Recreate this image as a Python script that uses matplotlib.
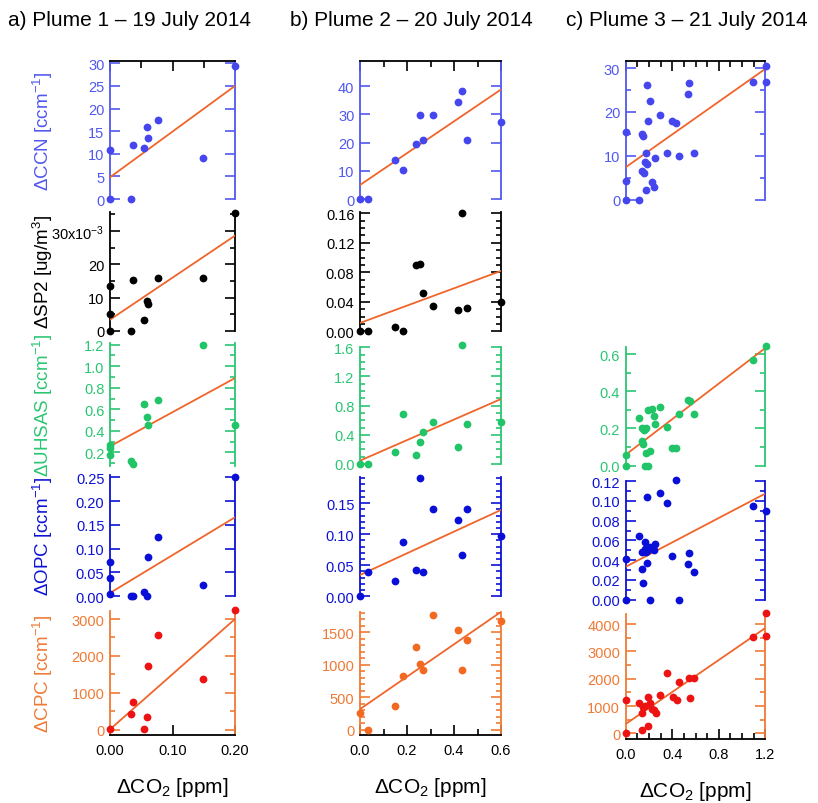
import matplotlib
matplotlib.use('Agg')
import matplotlib.pyplot as plt
from matplotlib.ticker import MultipleLocator, FuncFormatter, NullLocator
import numpy as np

plt.rcParams['font.family'] = ['Liberation Sans', 'DejaVu Sans']
plt.rcParams['mathtext.fontset'] = 'custom'
plt.rcParams['mathtext.rm'] = 'Liberation Sans'
plt.rcParams['mathtext.it'] = 'Liberation Sans:italic'
plt.rcParams['mathtext.bf'] = 'Liberation Sans:bold'
plt.rcParams['mathtext.default'] = 'regular'

# ---------------- data ----------------
titles = ["a) Plume 1 \u2013 19 July 2014", "b) Plume 2 \u2013 20 July 2014", "c) Plume 3 \u2013 21 July 2014"]
xmax = [0.2, 0.6, 1.2]

# Plume 1
a_ccn_x = [0, 0.034, 0, 0.037, 0.054, 0.059, 0.061, 0.076, 0.149, 0.2]
a_ccn_y = [0, 0, 10.9, 11.9, 11.3, 15.9, 13.5, 17.4, 9.05, 29.3]
a_sp2_x = [0, 0, 0, 0.034, 0.037, 0.054, 0.059, 0.061, 0.076, 0.149, 0.2]
a_sp2_y = [0.0136, 0.0051, 0.0, 0.0, 0.0153, 0.0033, 0.0091, 0.0081, 0.0159, 0.0158, 0.0355]
a_uhsas_x = [0, 0, 0, 0.034, 0.037, 0.054, 0.059, 0.061, 0.076, 0.149, 0.2]
a_uhsas_y = [0.27, 0.24, 0.178, 0.122, 0.091, 0.646, 0.531, 0.457, 0.689, 1.2, 0.457]
a_opc_x = [0, 0, 0, 0.034, 0.037, 0.054, 0.059, 0.061, 0.076, 0.149, 0.2]
a_opc_y = [0.072, 0.0385, 0.005, 0.0, 0.0, 0.0084, 0.0, 0.0826, 0.124, 0.0244, 0.25]
a_cpc_x = [0, 0.034, 0.037, 0.054, 0.059, 0.061, 0.076, 0.149, 0.2]
a_cpc_y = [15, 425, 742, 10, 336, 1735, 2566, 1383, 3252]

# Plume 2
b_ccn_x = [0, 0.033, 0.149, 0.183, 0.237, 0.254, 0.268, 0.309, 0.416, 0.434, 0.455, 0.6]
b_ccn_y = [0, 0, 13.8, 10.4, 19.5, 29.7, 21.0, 29.7, 34.4, 38.1, 21.0, 27.4]
b_sp2_x = [0, 0.033, 0.149, 0.183, 0.237, 0.254, 0.268, 0.309, 0.416, 0.434, 0.455, 0.6]
b_sp2_y = [0, 0, 0.0054, 0.0004, 0.090, 0.0913, 0.052, 0.034, 0.0285, 0.160, 0.0316, 0.0393]
b_uhsas_x = [0, 0.033, 0.149, 0.183, 0.237, 0.254, 0.268, 0.309, 0.416, 0.434, 0.455, 0.6]
b_uhsas_y = [0, 0, 0.16, 0.69, 0.128, 0.297, 0.443, 0.58, 0.228, 1.634, 0.552, 0.575]
b_opc_x = [0, 0.033, 0.149, 0.183, 0.237, 0.254, 0.268, 0.309, 0.416, 0.434, 0.455, 0.6]
b_opc_y = [0, 0.0387, 0.0242, 0.088, 0.042, 0.190, 0.0397, 0.141, 0.1235, 0.0666, 0.140, 0.0977]
b_cpc_x = [0, 0.033, 0.149, 0.183, 0.237, 0.254, 0.268, 0.309, 0.416, 0.434, 0.455, 0.6]
b_cpc_y = [257, 0, 365, 831, 1268, 1006, 923, 1770, 1534, 914, 1375, 1672]

# Plume 3
c_ccn_x = [0, 0.115, 0, 0, 0.143, 0.146, 0.186, 0.212, 0.189, 0.295, 0.177, 0.165, 0.183,
           0.143, 0.155, 0.177, 0.227, 0.242, 0.253, 0.356, 0.402, 0.436, 0.457, 0.548, 0.537,
           0.586, 1.097, 1.203, 1.203]
c_ccn_y = [0, 0, 4.3, 15.5, 15.0, 14.6, 26.2, 22.5, 18.0, 19.4, 10.7, 8.7, 8.15,
           6.5, 6.0, 2.1, 4.0, 2.9, 9.45, 10.6, 18.0, 17.5, 10.0, 26.6, 24.0,
           10.7, 26.9, 30.5, 26.8]
c_uhsas_x = [0, 0, 0.115, 0.143, 0.155, 0.165, 0.177, 0.143, 0.149, 0.189, 0.227, 0.298,
             0.242, 0.256, 0.356, 0.177, 0.212, 0.165, 0.189, 0.402, 0.436, 0.457, 0.537,
             0.552, 0.589, 1.097, 1.203]
c_uhsas_y = [0, 0.059, 0.255, 0.203, 0.192, 0.197, 0.203, 0.131, 0.117, 0.301, 0.305, 0.314,
             0.269, 0.224, 0.21, 0.067, 0.077, 0.0, 0.0, 0.093, 0.093, 0.278, 0.355,
             0.348, 0.276, 0.57, 0.642]
c_opc_x = [0, 0, 0.115, 0.143, 0.146, 0.165, 0.143, 0.186, 0.165, 0.189, 0.212, 0.183,
           0.256, 0.242, 0.177, 0.295, 0.356, 0.212, 0.402, 0.436, 0.457, 0.548, 0.537,
           0.586, 1.097, 1.203]
c_opc_y = [0.041, 0, 0.064, 0.031, 0.0169, 0.0586, 0.0485, 0.1037, 0.051, 0.050, 0.053, 0.037,
           0.056, 0.050, 0.048, 0.108, 0.098, 0.0, 0.0438, 0.121, 0.0, 0.0469, 0.0357,
           0.0283, 0.095, 0.090]
c_cpc_x = [0, 0, 0.115, 0.143, 0.149, 0.165, 0.189, 0.189, 0.143, 0.212, 0.227, 0.242,
           0.259, 0.298, 0.359, 0.405, 0.440, 0.460, 0.540, 0.552, 0.590, 1.097, 1.203, 1.203]
c_cpc_y = [0, 1220, 1110, 744, 952, 989, 1318, 280, 133, 1110, 890, 866,
           733, 1413, 2197, 1343, 1220, 1892, 2015, 1294, 2015, 3540, 4408, 3565]

# fitted lines (intercept, slope)
a_fits = {'CCN': (4.8, 101.0), 'SP2': (0.0034, 0.126), 'UHSAS': (0.256, 3.17),
          'OPC': (0.007, 0.795), 'CPC': (10.0, 14950.0)}
b_fits = {'CCN': (4.96, 56.4), 'SP2': (0.0113, 0.1175), 'UHSAS': (0.046, 1.407),
          'OPC': (0.0343, 0.1745), 'CPC': (317.0, 2497.0)}
c_fits = {'CCN': (7.4, 18.67), 'UHSAS': (0.059, 0.478),
          'OPC': (0.0333, 0.0618), 'CPC': (342.0, 2929.0)}

ylabels = {'CCN': '\u0394CCN [ccm$^{-1}$]', 'SP2': '\u0394SP2 [ug/m$^{3}$]',
           'UHSAS': '\u0394UHSAS [ccm$^{-1}$]', 'OPC': '\u0394OPC [ccm$^{-1}$]',
           'CPC': '\u0394CPC [ccm$^{-1}$]'}
xlabel = '\u0394CO$_{2}$ [ppm]'

# ---------------- style ----------------
axis_col = {'CCN': '#5158ef', 'SP2': 'black', 'UHSAS': '#2bc672', 'OPC': '#0d12d4', 'CPC': '#f07a35'}
pt_col = {'CCN': '#4646ef', 'SP2': 'black', 'UHSAS': '#22c468', 'OPC': '#0a0fd8', 'CPC': '#ee1313'}
cpc_b_col = '#f26a21'
FIT_C = '#f0652a'

W, H = 818, 804
fig = plt.figure(figsize=(W / 100, H / 100), dpi=100)

def rect(x0, x1, yt, yb):
    return [x0 / W, 1 - yb / H, (x1 - x0) / W, (yb - yt) / H]

fmt_int = lambda v, p: f"{v:.0f}"
fmt_1 = lambda v, p: f"{v:.1f}"
fmt_2 = lambda v, p: f"{v:.2f}"
fmt_sp2a = lambda v, p: (f"{v*1e3:.0f}x10$^{{-3}}$" if v > 0.025 else f"{v*1e3:.0f}")

columns = [
    dict(x=(110, 235), xmaj=0.1, xmin_top=0.05, xmin_bot=None, xfmt=fmt_2,
         data={'CCN': (a_ccn_x, a_ccn_y), 'SP2': (a_sp2_x, a_sp2_y), 'UHSAS': (a_uhsas_x, a_uhsas_y),
               'OPC': (a_opc_x, a_opc_y), 'CPC': (a_cpc_x, a_cpc_y)}, fits=a_fits,
         panels=[('CCN', 62, 200, (0, 30.5), 5, None, fmt_int),
                 ('SP2', 213, 332, (0, 0.0357), 0.01, 0.005, fmt_sp2a),
                 ('UHSAS', 344, 467, (0.073, 1.216), 0.2, 0.1, fmt_1),
                 ('OPC', 476, 597.3, (0, 0.2548), 0.05, None, fmt_2),
                 ('CPC', 611.7, 735.7, (-135, 3225), 1000, 500, fmt_int)]),
    dict(x=(360, 501), xmaj=0.2, xmin_top=0.1, xmin_bot=0.1, xfmt=fmt_1,
         data={'CCN': (b_ccn_x, b_ccn_y), 'SP2': (b_sp2_x, b_sp2_y), 'UHSAS': (b_uhsas_x, b_uhsas_y),
               'OPC': (b_opc_x, b_opc_y), 'CPC': (b_cpc_x, b_cpc_y)}, fits=b_fits,
         panels=[('CCN', 62, 200, (0, 48.9), 10, None, fmt_int),
                 ('SP2', 213, 332.3, (0, 0.1617), 0.04, 0.01, fmt_2),
                 ('UHSAS', 348, 465, (0, 1.603), 0.4, 0.1, fmt_1),
                 ('OPC', 478, 597.3, (0, 0.192), 0.05, 0.01, fmt_2),
                 ('CPC', 612.7, 735.7, (-77, 1818), 500, 100, fmt_int)]),
    dict(x=(625.7, 765.3), xmaj=0.4, xmin_top=0.1, xmin_bot=0.1, xfmt=fmt_1,
         data={'CCN': (c_ccn_x, c_ccn_y), 'UHSAS': (c_uhsas_x, c_uhsas_y),
               'OPC': (c_opc_x, c_opc_y), 'CPC': (c_cpc_x, c_cpc_y)}, fits=c_fits,
         panels=[('CCN', 62, 200.7, (0, 31.6), 10, 5, fmt_int),
                 ('UHSAS', 348, 466.7, (0, 0.638), 0.2, 0.1, fmt_1),
                 ('OPC', 481.7, 600.7, (0, 0.1205), 0.02, 0.01, fmt_2),
                 ('CPC', 615, 740, (-208, 4370), 1000, 500, fmt_int)]),
]

title_x = [8, 290, 566]

for ci, col in enumerate(columns):
    x0, x1 = col['x']
    xm = xmax[ci]
    n = len(col['panels'])
    for pi, (name, yt, yb, ylim, maj, mnr, fmt) in enumerate(col['panels']):
        ax = fig.add_axes(rect(x0, x1, yt, yb))
        ax.set_facecolor('none')
        ax.set_xlim(0, xm)
        ax.set_ylim(*ylim)
        c = axis_col[name]
        is_top = pi == 0
        is_bot = pi == n - 1
        for s in ('left', 'right'):
            ax.spines[s].set_color(c)
            ax.spines[s].set_linewidth(1.3)
        ax.spines['top'].set_visible(is_top)
        ax.spines['bottom'].set_visible(is_bot)
        ax.spines['top'].set_color('black')
        ax.spines['bottom'].set_color('black')
        ax.spines['top'].set_linewidth(1.3)
        ax.spines['bottom'].set_linewidth(1.3)

        xs, ys = col['data'][name]
        pc = pt_col[name]
        if name == 'CPC' and ci == 1:
            pc = cpc_b_col
        ax.plot(xs, ys, 'o', color=pc, ms=5.6, mec='none', clip_on=False, zorder=4)
        b0, m = col['fits'][name]
        xx = np.array([0.0, xm])
        ax.plot(xx, b0 + m * xx, color=FIT_C, lw=1.3, zorder=3)

        ax.yaxis.set_major_locator(MultipleLocator(maj))
        if mnr:
            ax.yaxis.set_minor_locator(MultipleLocator(mnr))
        else:
            ax.yaxis.set_minor_locator(NullLocator())
        ax.yaxis.set_major_formatter(FuncFormatter(fmt))
        ax.tick_params(axis='y', which='both', direction='in', left=True, right=True,
                       color=c, labelcolor=c, labelsize=10.5, pad=4, width=1.2)
        ax.tick_params(axis='y', which='major', length=7)
        ax.tick_params(axis='y', which='minor', length=3.5)

        ax.xaxis.set_major_locator(MultipleLocator(col['xmaj']))
        ax.xaxis.set_major_formatter(FuncFormatter(col['xfmt']))
        if is_top:
            ax.xaxis.set_minor_locator(MultipleLocator(col['xmin_top']))
            ax.tick_params(axis='x', which='both', direction='in', top=True, bottom=False,
                           labelbottom=False, labeltop=False, color='black', width=1.2)
            ax.tick_params(axis='x', which='major', length=7)
            ax.tick_params(axis='x', which='minor', length=5 if ci == 0 else 4)
        elif is_bot:
            if col['xmin_bot']:
                ax.xaxis.set_minor_locator(MultipleLocator(col['xmin_bot']))
            else:
                ax.xaxis.set_minor_locator(NullLocator())
            ax.tick_params(axis='x', which='both', direction='in', top=False, bottom=True,
                           labelbottom=True, color='black', labelcolor='black',
                           labelsize=10.5, pad=6, width=1.2)
            ax.tick_params(axis='x', which='major', length=7)
            ax.tick_params(axis='x', which='minor', length=4)
        else:
            ax.tick_params(axis='x', which='both', top=False, bottom=False,
                           labelbottom=False, labeltop=False)

        if ci == 0:
            fig.text(43 / W, 1 - ((yt + yb) / 2) / H, ylabels[name], rotation=90,
                     ha='center', va='center', fontsize=13.5, color=c)

    fig.text(title_x[ci] / W, 1 - 20 / H, titles[ci], ha='left', va='center', fontsize=15, color='black')
    ybot = col['panels'][-1][2]
    fig.text(((x0 + x1) / 2) / W, 1 - (ybot + 52) / H, xlabel, ha='center', va='center',
             fontsize=15, color='black')

fig.savefig('out.png', dpi=100)
